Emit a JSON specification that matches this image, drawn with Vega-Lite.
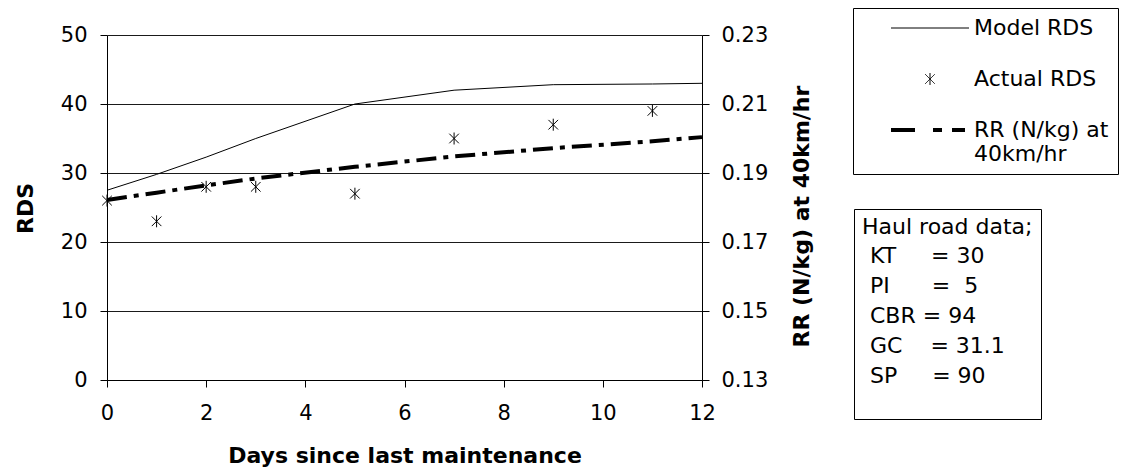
{
  "$schema": "https://vega.github.io/schema/vega-lite/v6.json",
  "width": 595,
  "height": 345,
  "autosize": {"type": "none"},
  "padding": {"left": 107, "top": 35, "right": 435, "bottom": 88},
  "background": "white",
  "config": {
    "font": "DejaVu Sans",
    "view": {"stroke": null},
    "axis": {
      "labelFont": "DejaVu Sans",
      "labelFontSize": 21,
      "labelColor": "black",
      "titleFont": "DejaVu Sans",
      "titleFontSize": 22,
      "titleFontWeight": "bold",
      "titleColor": "black",
      "domainColor": "black",
      "tickColor": "black",
      "tickSize": 7,
      "gridColor": "#1a1a1a",
      "gridOpacity": 1
    },
    "legend": {
      "labelFont": "DejaVu Sans",
      "titleFont": "DejaVu Sans",
      "labelColor": "black",
      "titleColor": "black"
    }
  },
  "datasets": {
    "series": [
      {"day": 0, "model": 27.5, "actual": 26, "rr": 0.1822},
      {"day": 1, "model": 29.8, "actual": 23, "rr": 0.1843},
      {"day": 2, "model": 32.3, "actual": 28, "rr": 0.1864},
      {"day": 3, "model": 35.0, "actual": 28, "rr": 0.1884},
      {"day": 5, "model": 40.0, "actual": 27, "rr": 0.1918},
      {"day": 7, "model": 42.0, "actual": 35, "rr": 0.1948},
      {"day": 9, "model": 42.8, "actual": 37, "rr": 0.1972},
      {"day": 11, "model": 42.9, "actual": 39, "rr": 0.1992},
      {"day": 12, "model": 43.0, "actual": null, "rr": 0.2004}
    ],
    "haul": [
      {"param": "KT\u00a0\u00a0\u00a0\u00a0\u00a0=\u00a030"},
      {"param": "PI\u00a0\u00a0\u00a0\u00a0\u00a0\u00a0=\u00a0\u00a05"},
      {"param": "CBR\u00a0=\u00a094"},
      {"param": "GC\u00a0\u00a0\u00a0\u00a0=\u00a031.1"},
      {"param": "SP\u00a0\u00a0\u00a0\u00a0\u00a0=\u00a090"}
    ]
  },
  "layer": [
    {
      "data": {"name": "series"},
      "layer": [
        {
          "mark": {"type": "line", "strokeWidth": 1, "clip": true},
          "encoding": {
            "x": {
              "field": "day", "type": "quantitative",
              "scale": {"domain": [0, 12], "nice": false, "zero": false},
              "axis": {
                "values": [0, 2, 4, 6, 8, 10, 12],
                "grid": false,
                "labelFlush": false,
                "labelPadding": 15,
                "title": "Days since last maintenance",
                "titleBaseline": "middle",
                "titleY": 75
              }
            },
            "y": {
              "field": "model", "type": "quantitative",
              "scale": {"domain": [0, 50], "nice": false},
              "axis": {
                "values": [0, 10, 20, 30, 40, 50],
                "grid": true,
                "labelPadding": 13,
                "title": "RDS",
                "titleAngle": 270,
                "titleAlign": "center",
                "titleBaseline": "middle",
                "titleX": -82,
                "titleY": 173
              }
            },
            "color": {
              "datum": "Model RDS", "type": "nominal",
              "scale": {
                "domain": ["Model RDS", "Actual RDS", "RR (N/kg) at 40km/hr"],
                "range": ["black", "black", "black"]
              },
              "legend": {
                "title": null,
                "orient": "none",
                "legendX": 746,
                "legendY": -27,
                "strokeColor": "black",
                "fillColor": "white",
                "padding": 9,
                "symbolSize": 676,
                "symbolOffset": 57,
                "labelOffset": 33,
                "labelFontSize": 22,
                "labelLimit": 600,
                "labelLineHeight": 28,
                "rowPadding": 29,
                "labelExpr": "datum.value == 'RR (N/kg) at 40km/hr' ? ['RR (N/kg) at', '40km/hr'] : pad(datum.label, 30, '\u00a0')",
                "encode": {
                  "symbols": {
                    "update": {
                      "shape": {"signal": "datum.value == 'Actual RDS' ? 'M-0.37,-0.37L0.37,0.37M-0.37,0.37L0.37,-0.37M0,-0.46L0,0.46' : 'M-3,0L3,0'"},
                      "strokeWidth": {"signal": "datum.value == 'RR (N/kg) at 40km/hr' ? 4 : 1"},
                      "strokeDash": {"signal": "datum.value == 'RR (N/kg) at 40km/hr' ? [24, 18, 9, 10, 13, 10] : [1, 0]"},
                      "stroke": {"value": "black"},
                      "fill": {"value": "transparent"},
                      "opacity": {"value": 1}
                    }
                  }
                }
              }
            }
          }
        },
        {
          "mark": {"type": "point", "shape": "M-0.8,-0.8L0.8,0.8M-0.8,0.8L0.8,-0.8M0,-1L0,1", "size": 144, "strokeWidth": 1, "filled": false, "opacity": 1},
          "encoding": {
            "x": {"field": "day", "type": "quantitative"},
            "y": {"field": "actual", "type": "quantitative"},
            "color": {"datum": "Actual RDS", "type": "nominal"}
          }
        }
      ]
    },
    {
      "data": {"name": "series"},
      "mark": {"type": "line", "strokeWidth": 4, "strokeDash": [20, 7, 5, 7]},
      "encoding": {
        "x": {"field": "day", "type": "quantitative"},
        "y": {
          "field": "rr", "type": "quantitative",
          "scale": {"domain": [0.13, 0.23], "nice": false, "zero": false},
          "axis": {
            "orient": "right",
            "values": [0.13, 0.15, 0.17, 0.19, 0.21, 0.23],
            "format": ".2f",
            "grid": false,
            "labelPadding": 12,
            "title": "RR (N/kg) at 40km/hr",
            "titleAngle": 270,
            "titleAlign": "left",
            "titleBaseline": "middle",
            "titleX": 99,
            "titleY": 312,
            "titleLimit": 400
          }
        },
        "color": {"datum": "RR (N/kg) at 40km/hr", "type": "nominal"}
      }
    },
    {
      "data": {"name": "haul"},
      "mark": {"type": "point", "opacity": 0},
      "encoding": {
        "shape": {
          "field": "param", "type": "nominal",
          "scale": {"domain": ["KT\u00a0\u00a0\u00a0\u00a0\u00a0=\u00a030", "PI\u00a0\u00a0\u00a0\u00a0\u00a0\u00a0=\u00a0\u00a05", "CBR\u00a0=\u00a094", "GC\u00a0\u00a0\u00a0\u00a0=\u00a031.1", "SP\u00a0\u00a0\u00a0\u00a0\u00a0=\u00a090"]},
          "legend": {
            "title": "Haul road data;",
            "orient": "none",
            "legendX": 747,
            "legendY": 174,
            "strokeColor": "black",
            "fillColor": "white",
            "padding": 8,
            "titleFontSize": 22,
            "titleFontWeight": "normal",
            "titleLimit": 600,
            "titlePadding": 6,
            "symbolSize": 0,
            "symbolOpacity": 0,
            "symbolStrokeWidth": 0,
            "symbolOffset": 0,
            "labelOffset": -14,
            "labelFontSize": 22,
            "labelLimit": 600,
            "rowPadding": 8,
            "labelExpr": "indexof(datum.value, 'SP') == 0 ? [pad(datum.label, 45, '\u00a0'), '\u00a0'] : pad(datum.label, 45, '\u00a0')",
            "encode": {
              "labels": {
                "update": {
                  "lineHeight": {"value": 12}
                }
              }
            }
          }
        }
      }
    }
  ],
  "resolve": {"scale": {"y": "independent"}}
}
